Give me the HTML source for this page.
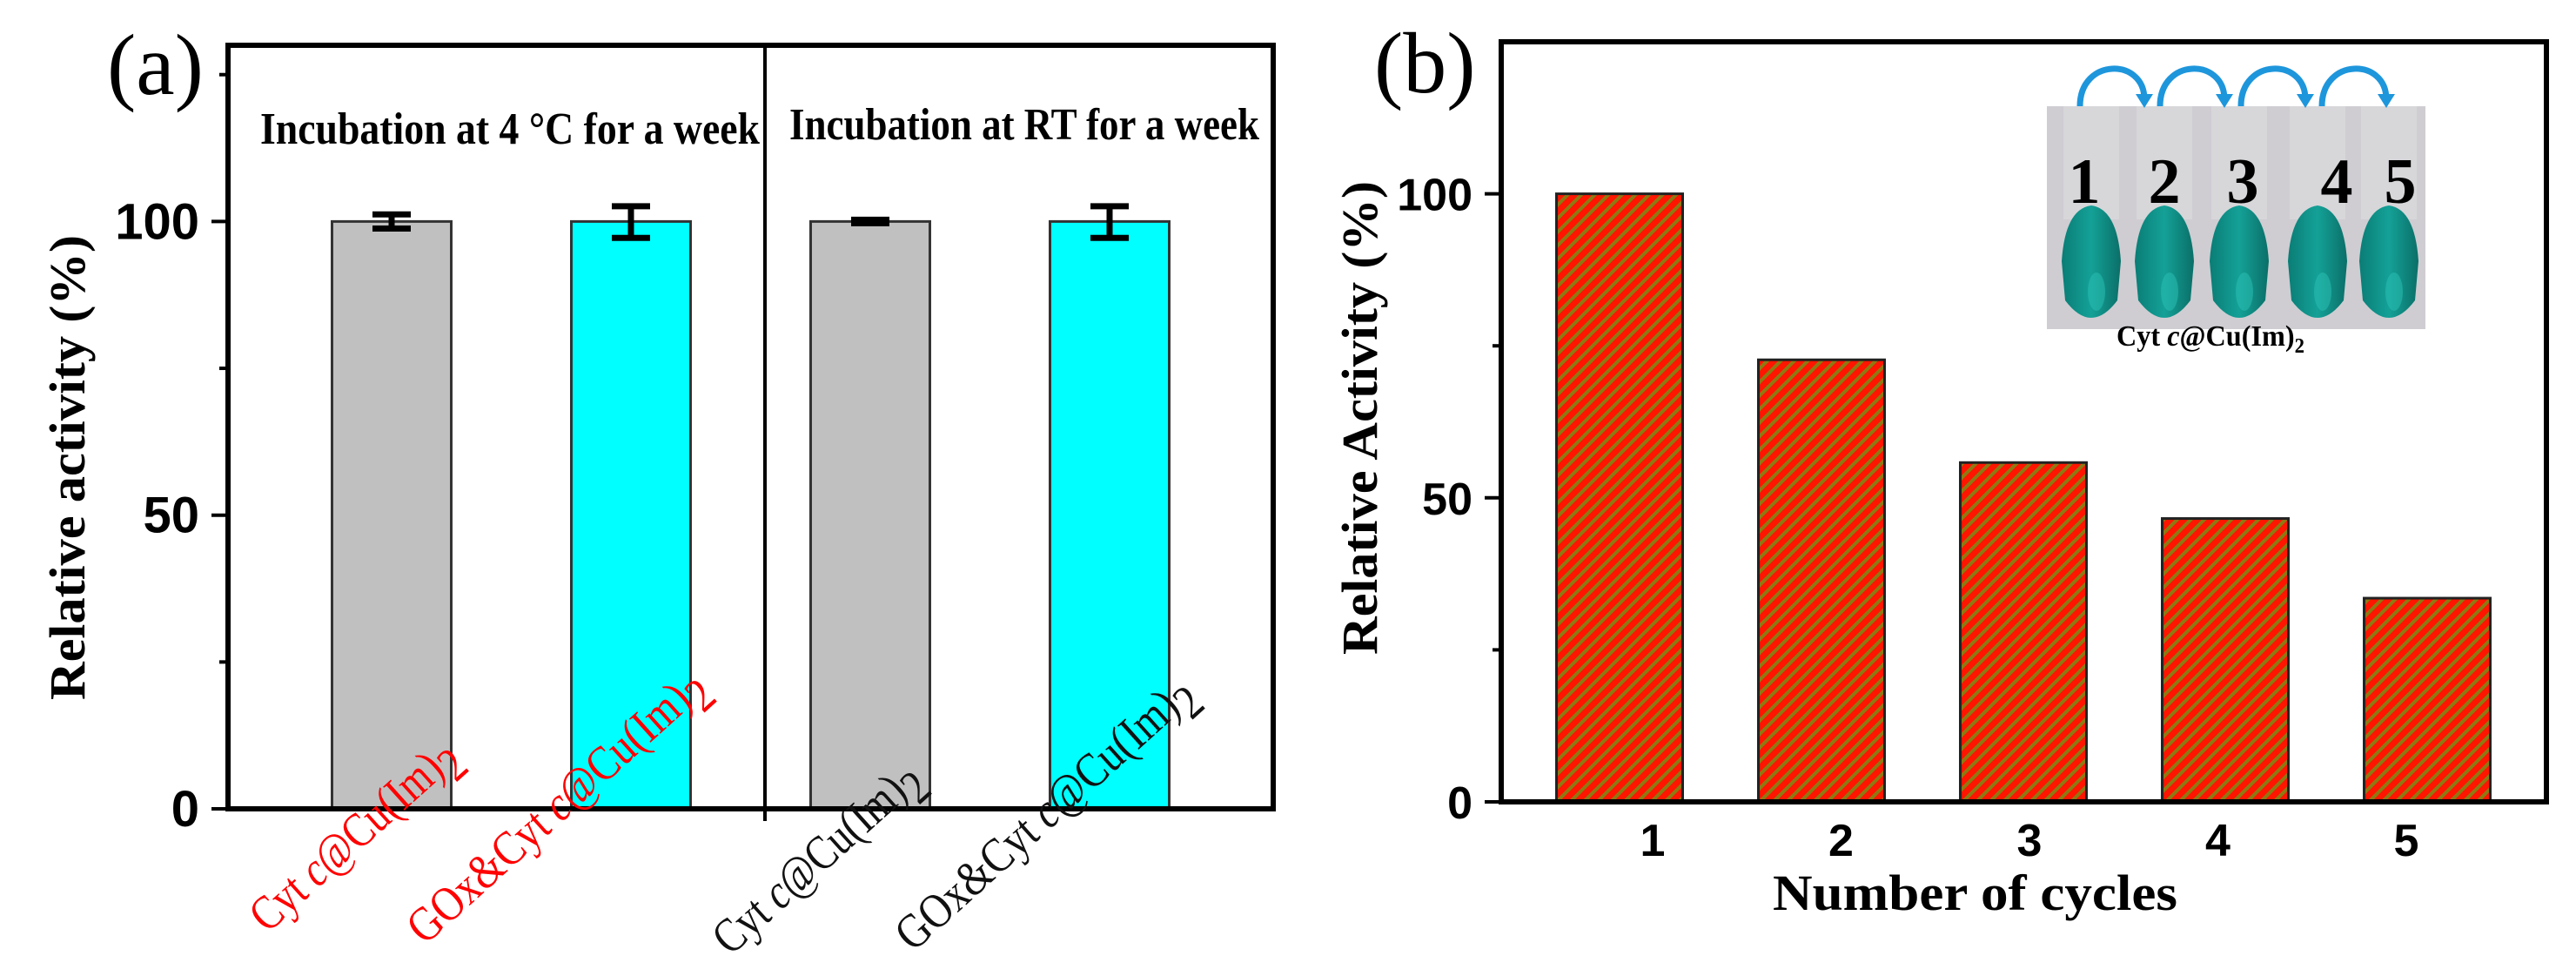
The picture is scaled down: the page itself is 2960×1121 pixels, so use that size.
<!DOCTYPE html>
<html><head><meta charset="utf-8"><style>
html,body{margin:0;padding:0;background:#fff;}
svg{display:block;}
.serif{font-family:"Liberation Serif",serif;}
.sans{font-family:"Liberation Sans",sans-serif;font-weight:bold;}
</style></head><body>
<svg id="fig" width="2960" height="1121" viewBox="0 0 2960 1121" xmlns="http://www.w3.org/2000/svg">
<defs>
<pattern id="hatch" patternUnits="userSpaceOnUse" width="11" height="11" patternTransform="rotate(45)">
<rect width="11" height="11" fill="#ff1500"/>
<rect x="0" width="4" height="11" fill="#8c7a12"/>
</pattern>
<linearGradient id="tubeGrad" x1="0" x2="1" y1="0" y2="0">
<stop offset="0" stop-color="#0a7d76"/><stop offset="0.5" stop-color="#14a197"/><stop offset="1" stop-color="#0a6f68"/>
</linearGradient>
</defs>
<g id="panelA"></g>
<g id="panelB"></g>
</svg>
<script>
// ---- Panel (a) data ----
const aCategories = ["Cyt c@Cu(Im)2","GOx&Cyt c@Cu(Im)2","Cyt c@Cu(Im)2","GOx&Cyt c@Cu(Im)2"];
const aValues = [100, 100, 100, 100];
const aErrUp = [1.2, 2.6, 0.3, 2.6];
const aErrDown = [1.2, 2.8, 0.3, 2.8];
const aColors = ["#c0c0c0","#00ffff","#c0c0c0","#00ffff"];
const aLabelColors = ["#ff0000","#ff0000","#111","#111"];
const aYTicks = [0, 50, 100];
const aYMinor = [25, 75, 125];
// ---- Panel (b) data ----
const bCategories = ["1","2","3","4","5"];
const bValues = [100, 72.7, 55.8, 46.6, 33.5];
const bYTicks = [0, 50, 100];
const bYMinor = [25, 75];
const tubeNumbers = ["1","2","3","4","5"];

const NS = "http://www.w3.org/2000/svg";
function mk(parent, tag, attrs, text){
  const e = document.createElementNS(NS, tag);
  for (const k in attrs) e.setAttribute(k, attrs[k]);
  if (text !== undefined) e.textContent = text;
  parent.appendChild(e);
  return e;
}

// ===== Panel A =====
(function(){
  const g = document.getElementById('panelA');
  const L=262, R=1463, T=52, B=929, yMax=130;
  const y = v => B - (B-T)*v/yMax;
  const x0 = 450, dx = 275, bw = 137;
  const x = i => x0 + i*dx;
  aValues.forEach((v,i)=>{
    const r = mk(g,'rect',{x:x(i)-bw/2,y:y(v),width:bw,height:B-y(v),fill:aColors[i],stroke:'#333','stroke-width':3});
    
    
    const e = mk(g,'path',{d:`M${x(i)} ${y(v+aErrUp[i])}V${y(v-aErrDown[i])}M${x(i)-22} ${y(v+aErrUp[i])}H${x(i)+22}M${x(i)-22} ${y(v-aErrDown[i])}H${x(i)+22}`,stroke:'#000','stroke-width':7,fill:'none'});
    
    
  });
  const f = mk(g,'rect',{x:L,y:T,width:R-L,height:B-T,fill:'none',stroke:'#000','stroke-width':6});
  
  
  const dv = mk(g,'line',{x1:879,y1:T,x2:879,y2:B+14,stroke:'#000','stroke-width':4});
  
  
  aYTicks.forEach(t=>{
    const tk = mk(g,'line',{x1:L-19,x2:L,y1:y(t),y2:y(t),stroke:'#000','stroke-width':4});
    
    
    const tl = mk(g,'text',{x:L-33,y:y(t)+20,'text-anchor':'end','font-size':58,class:'sans'},String(t));
    
    
  });
  aYMinor.forEach(t=>{
    const tk = mk(g,'line',{x1:L-10,x2:L,y1:y(t),y2:y(t),stroke:'#000','stroke-width':4});
    
    
  });
  const yt = mk(g,'text',{x:0,y:0,transform:'translate(97,537) rotate(-90)','text-anchor':'middle','font-size':58,'font-weight':'bold',class:'serif',textLength:534,lengthAdjust:'spacingAndGlyphs'},'Relative activity (%)');
  
  
  const pl = mk(g,'text',{x:123,y:108,'font-size':100,class:'serif'},'(a)');
  
  
  const h1 = mk(g,'text',{x:299,y:165,'font-size':52,'font-weight':'bold',class:'serif',textLength:574,lengthAdjust:'spacingAndGlyphs'},'Incubation at 4 °C for a week');
  
  
  const h2 = mk(g,'text',{x:907,y:160,'font-size':52,'font-weight':'bold',class:'serif',textLength:540,lengthAdjust:'spacingAndGlyphs'},'Incubation at RT for a week');
  
  
  const endPts = [[530,872],[815,792],[1062,898],[1376,800]];
  const lens = [300,440,300,440];
  aCategories.forEach((c,i)=>{
    const [ex,ey] = endPts[i];
    const t = mk(g,'text',{transform:`translate(${ex},${ey}) rotate(-42)`,'text-anchor':'end','font-size':56,fill:aLabelColors[i],class:'serif',textLength:lens[i],lengthAdjust:'spacingAndGlyphs'});
    
    
    const main = c.slice(0,-1);
    const parts = main.split(' c@');
    mk(t,'tspan',{},parts[0]+' ');
    mk(t,'tspan',{'font-style':'italic'},'c');
    mk(t,'tspan',{},'@'+parts[1]);
    mk(t,'tspan',{dy:16},'2');
  });
})();

// ===== Panel B =====
(function(){
  const g = document.getElementById('panelB');
  const L=1725, R=2926, T=48, B=921, yMax=125;
  const y = v => B - (B-T)*v/yMax;
  const x0 = 1861, dx = 232, bw = 145;
  const x = i => x0 + i*dx;
  const lx = i => 1899 + i*216.5;
  bValues.forEach((v,i)=>{
    const r = mk(g,'rect',{x:x(i)-bw/2,y:y(v),width:bw,height:B-y(v),fill:'url(#hatch)',stroke:'#222','stroke-width':3});
    
    
    const tl = mk(g,'text',{x:lx(i),y:983,'text-anchor':'middle','font-size':52,class:'sans'},bCategories[i]);
    
    
  });
  const f = mk(g,'rect',{x:L,y:T,width:R-L,height:B-T,fill:'none',stroke:'#000','stroke-width':6});
  
  
  bYTicks.forEach(t=>{
    const tk = mk(g,'line',{x1:L-19,x2:L,y1:y(t),y2:y(t),stroke:'#000','stroke-width':4});
    
    
    const tl = mk(g,'text',{x:1692,y:y(t)+19,'text-anchor':'end','font-size':52,class:'sans'},String(t));
    
    
  });
  bYMinor.forEach(t=>{
    const tk = mk(g,'line',{x1:L-10,x2:L,y1:y(t),y2:y(t),stroke:'#000','stroke-width':4});
    
    
  });
  const yt = mk(g,'text',{transform:'translate(1582,480) rotate(-90)','text-anchor':'middle','font-size':58,'font-weight':'bold',class:'serif',textLength:544,lengthAdjust:'spacingAndGlyphs'},'Relative Activity (%)');
  
  
  const xt = mk(g,'text',{x:2037,y:1045,'font-size':58,'font-weight':'bold',class:'serif',textLength:465,lengthAdjust:'spacingAndGlyphs'},'Number of cycles');
  
  
  const pl = mk(g,'text',{x:1579,y:106,'font-size':100,class:'serif'},'(b)');
  
  

  const ins = mk(g,'g',{});
  
  
  mk(ins,'rect',{x:2352,y:122,width:435,height:256,fill:'#cfcdd2'});
  const tubeX = [2403,2487,2573,2663,2745];
  tubeX.forEach((tx,i)=>{
    mk(ins,'rect',{x:tx-32,y:122,width:64,height:130,fill:'#dadadc',opacity:0.7});
    const tb = mk(ins,'path',{d:`M${tx-34} 300 Q${tx-30} 240 ${tx} 236 Q${tx+30} 240 ${tx+34} 300 L${tx+30} 345 Q${tx} 385 ${tx-30} 345 Z`,fill:'url(#tubeGrad)'});
    
    
    mk(ins,'ellipse',{cx:tx+6,cy:335,rx:10,ry:22,fill:'#2bc2b5',opacity:0.5});
  });
  const numX = [2395,2487,2577,2685,2758];
  tubeNumbers.forEach((n,i)=>{
    const t = mk(ins,'text',{x:numX[i],y:233,'text-anchor':'middle','font-size':74,'font-weight':'bold',class:'serif'},n);
    
    
  });
  const arcS = [2390,2482,2575,2668], arcE=[2470,2562,2655,2748];
  arcS.forEach((s,i)=>{
    const e = arcE[i];
    const a = mk(ins,'path',{d:`M${s} 122 C${s} 66 ${e-6} 66 ${e-6} 114`,stroke:'#1e96dc','stroke-width':7,fill:'none'});
    
    
    mk(ins,'path',{d:`M${e-16} 108 L${e+4} 108 L${e-6} 124 Z`,fill:'#1e96dc'});
  });
  const cap = mk(ins,'text',{x:2432,y:397,'font-size':34,'font-weight':'bold',class:'serif',textLength:216,lengthAdjust:'spacingAndGlyphs'});
  
  
  mk(cap,'tspan',{},'Cyt ');
  mk(cap,'tspan',{'font-style':'italic'},'c');
  mk(cap,'tspan',{},'@Cu(Im)');
  mk(cap,'tspan',{dy:8,'font-size':24},'2');
})();
</script>
</body></html>
